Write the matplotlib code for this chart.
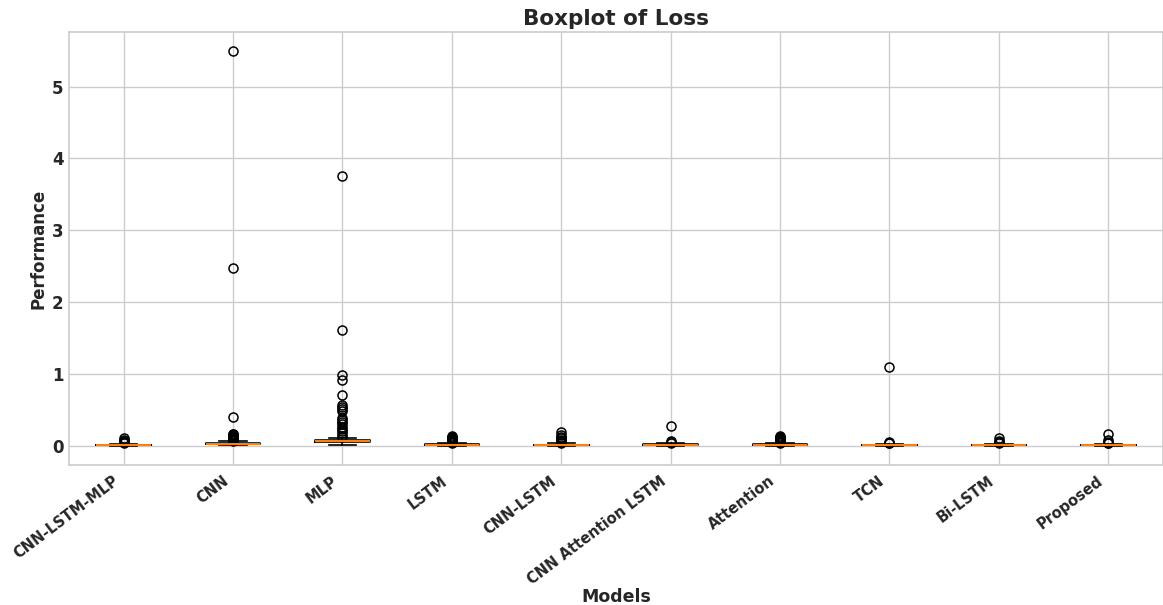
import matplotlib
matplotlib.use("Agg")
import matplotlib.pyplot as plt
import matplotlib.transforms as mtransforms

models = ["CNN-LSTM-MLP", "CNN", "MLP", "LSTM", "CNN-LSTM",
          "CNN Attention LSTM", "Attention", "TCN", "Bi-LSTM", "Proposed"]

# Box statistics of the loss per model
q1 = [0.004, 0.018, 0.048, 0.006, 0.004, 0.006, 0.006, 0.003, 0.003, 0.003]
medians = [0.008, 0.026, 0.060, 0.011, 0.009, 0.012, 0.012, 0.007, 0.007, 0.007]
q3 = [0.012, 0.036, 0.074, 0.017, 0.015, 0.018, 0.018, 0.012, 0.012, 0.012]
whisker_low = [0.000, 0.002, 0.010, 0.000, 0.000, 0.000, 0.000, 0.000, 0.000, 0.000]
whisker_high = [0.025, 0.060, 0.110, 0.035, 0.030, 0.035, 0.035, 0.025, 0.025, 0.025]

# Outlying loss values per model
fliers = [
    [0.035, 0.045, 0.055, 0.070, 0.085, 0.100],
    [0.065, 0.075, 0.085, 0.095, 0.105, 0.115, 0.125, 0.135, 0.145, 0.155,
     0.165, 0.40, 2.48, 5.49],
    [0.12, 0.14, 0.17, 0.20, 0.23, 0.26, 0.30, 0.33, 0.36, 0.38, 0.48,
     0.51, 0.54, 0.57, 0.71, 0.91, 0.98, 1.61, 3.76],
    [0.040, 0.050, 0.060, 0.070, 0.080, 0.090, 0.100, 0.110, 0.120, 0.130],
    [0.040, 0.050, 0.065, 0.080, 0.10, 0.12, 0.15, 0.19],
    [0.040, 0.050, 0.060, 0.27],
    [0.040, 0.050, 0.060, 0.070, 0.080, 0.090, 0.100, 0.110, 0.120, 0.135],
    [0.030, 0.040, 0.055, 1.09],
    [0.030, 0.045, 0.065, 0.11],
    [0.030, 0.040, 0.050, 0.075, 0.16],
]

text_color = "#262626"
grid_color = "#cccccc"

fig = plt.figure(figsize=(11.63, 6.05), dpi=100)
ax = fig.add_axes([0.0593, 0.2314, 0.9407, 0.7156])
ax.set_facecolor("white")

stats = []
for i, name in enumerate(models):
    stats.append(dict(label=name, q1=q1[i], med=medians[i], q3=q3[i],
                      whislo=whisker_low[i], whishi=whisker_high[i],
                      fliers=fliers[i]))

ax.bxp(stats, positions=range(1, len(models) + 1), widths=0.5,
       boxprops=dict(color="black", linewidth=1.2),
       whiskerprops=dict(color="black", linewidth=1.2),
       capprops=dict(color="black", linewidth=1.2),
       medianprops=dict(color="#ff7f0e", linewidth=1.5),
       flierprops=dict(marker="o", markerfacecolor="none",
                       markeredgecolor="black", markersize=6.5,
                       markeredgewidth=1.1))

ax.set_xlim(0.5, len(models) + 0.5)
ax.set_ylim(-0.27, 5.76)
ax.set_yticks([0, 1, 2, 3, 4, 5])

ax.grid(True, color=grid_color, linewidth=1.0)
ax.set_axisbelow(True)
for side in ["left", "bottom", "top", "right"]:
    ax.spines[side].set_color(grid_color)
    ax.spines[side].set_linewidth(1.2)
ax.tick_params(axis="x", length=0, colors=text_color, pad=6)
ax.tick_params(axis="y", length=0, colors=text_color, pad=4)

shift_left = mtransforms.ScaledTranslation(-8 / 72, 0, fig.dpi_scale_trans)
for lbl in ax.get_xticklabels():
    lbl.set_rotation(37)
    lbl.set_ha("right")
    lbl.set_rotation_mode("anchor")
    lbl.set_fontweight("bold")
    lbl.set_fontsize(10.5)
    lbl.set_transform(lbl.get_transform() + shift_left)
for lbl in ax.get_yticklabels():
    lbl.set_fontweight("bold")
    lbl.set_fontsize(12)

ax.set_title("Boxplot of Loss", fontsize=15.5, fontweight="bold",
             color=text_color, pad=5)
ax.set_xlabel("Models", fontsize=12.5, fontweight="bold", color=text_color)
ax.xaxis.set_label_coords(0.5, -0.284)
ax.set_ylabel("Performance", fontsize=12, fontweight="bold",
              color=text_color, labelpad=3)

fig.savefig("out.png", dpi=100, facecolor="white")
